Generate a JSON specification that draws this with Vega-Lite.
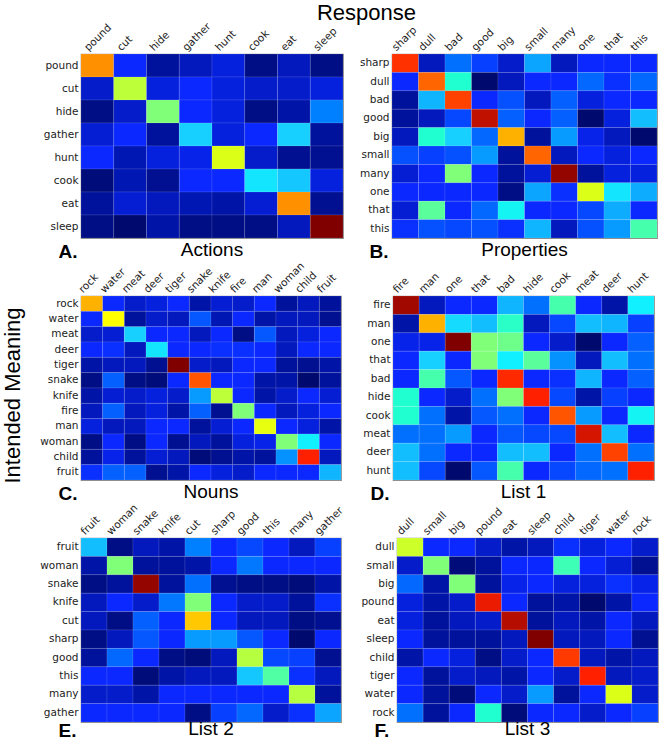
{
"$schema":"https://vega.github.io/schema/vega-lite/v6.json",
"padding":{"left":2,"top":2,"right":0,"bottom":0},
"background":"white",
"datasets":{
"A":[
{"r":"pound","c":"pound","v":0.75},{"r":"pound","c":"cut","v":0.13},{"r":"pound","c":"hide","v":0.04},{"r":"pound","c":"gather","v":0.07},{"r":"pound","c":"hunt","v":0.10},{"r":"pound","c":"cook","v":0.02},{"r":"pound","c":"eat","v":0.07},{"r":"pound","c":"sleep","v":0.02},
{"r":"cut","c":"pound","v":0.08},{"r":"cut","c":"cut","v":0.58},{"r":"cut","c":"hide","v":0.10},{"r":"cut","c":"gather","v":0.13},{"r":"cut","c":"hunt","v":0.10},{"r":"cut","c":"cook","v":0.08},{"r":"cut","c":"eat","v":0.08},{"r":"cut","c":"sleep","v":0.10},
{"r":"hide","c":"pound","v":0.02},{"r":"hide","c":"cut","v":0.08},{"r":"hide","c":"hide","v":0.50},{"r":"hide","c":"gather","v":0.13},{"r":"hide","c":"hunt","v":0.10},{"r":"hide","c":"cook","v":0.02},{"r":"hide","c":"eat","v":0.05},{"r":"hide","c":"sleep","v":0.24},
{"r":"gather","c":"pound","v":0.09},{"r":"gather","c":"cut","v":0.13},{"r":"gather","c":"hide","v":0.04},{"r":"gather","c":"gather","v":0.33},{"r":"gather","c":"hunt","v":0.10},{"r":"gather","c":"cook","v":0.13},{"r":"gather","c":"eat","v":0.33},{"r":"gather","c":"sleep","v":0.04},
{"r":"hunt","c":"pound","v":0.13},{"r":"hunt","c":"cut","v":0.06},{"r":"hunt","c":"hide","v":0.10},{"r":"hunt","c":"gather","v":0.11},{"r":"hunt","c":"hunt","v":0.62},{"r":"hunt","c":"cook","v":0.08},{"r":"hunt","c":"eat","v":0.03},{"r":"hunt","c":"sleep","v":0.03},
{"r":"cook","c":"pound","v":0.01},{"r":"cook","c":"cut","v":0.06},{"r":"cook","c":"hide","v":0.03},{"r":"cook","c":"gather","v":0.13},{"r":"cook","c":"hunt","v":0.13},{"r":"cook","c":"cook","v":0.35},{"r":"cook","c":"eat","v":0.32},{"r":"cook","c":"sleep","v":0.10},
{"r":"eat","c":"pound","v":0.04},{"r":"eat","c":"cut","v":0.09},{"r":"eat","c":"hide","v":0.07},{"r":"eat","c":"gather","v":0.06},{"r":"eat","c":"hunt","v":0.05},{"r":"eat","c":"cook","v":0.09},{"r":"eat","c":"eat","v":0.75},{"r":"eat","c":"sleep","v":0.03},
{"r":"sleep","c":"pound","v":0.02},{"r":"sleep","c":"cut","v":0.00},{"r":"sleep","c":"hide","v":0.05},{"r":"sleep","c":"gather","v":0.02},{"r":"sleep","c":"hunt","v":0.02},{"r":"sleep","c":"cook","v":0.02},{"r":"sleep","c":"eat","v":0.07},{"r":"sleep","c":"sleep","v":1.00}
],
"B":[
{"r":"sharp","c":"sharp","v":0.86},{"r":"sharp","c":"dull","v":0.07},{"r":"sharp","c":"bad","v":0.22},{"r":"sharp","c":"good","v":0.16},{"r":"sharp","c":"big","v":0.08},{"r":"sharp","c":"small","v":0.28},{"r":"sharp","c":"many","v":0.07},{"r":"sharp","c":"one","v":0.13},{"r":"sharp","c":"that","v":0.13},{"r":"sharp","c":"this","v":0.13},
{"r":"dull","c":"sharp","v":0.13},{"r":"dull","c":"dull","v":0.80},{"r":"dull","c":"bad","v":0.40},{"r":"dull","c":"good","v":0.00},{"r":"dull","c":"big","v":0.07},{"r":"dull","c":"small","v":0.13},{"r":"dull","c":"many","v":0.13},{"r":"dull","c":"one","v":0.21},{"r":"dull","c":"that","v":0.14},{"r":"dull","c":"this","v":0.21},
{"r":"bad","c":"sharp","v":0.04},{"r":"bad","c":"dull","v":0.30},{"r":"bad","c":"bad","v":0.84},{"r":"bad","c":"good","v":0.13},{"r":"bad","c":"big","v":0.18},{"r":"bad","c":"small","v":0.07},{"r":"bad","c":"many","v":0.20},{"r":"bad","c":"one","v":0.10},{"r":"bad","c":"that","v":0.13},{"r":"bad","c":"this","v":0.13},
{"r":"good","c":"sharp","v":0.04},{"r":"good","c":"dull","v":0.07},{"r":"good","c":"bad","v":0.17},{"r":"good","c":"good","v":0.94},{"r":"good","c":"big","v":0.20},{"r":"good","c":"small","v":0.13},{"r":"good","c":"many","v":0.20},{"r":"good","c":"one","v":0.00},{"r":"good","c":"that","v":0.10},{"r":"good","c":"this","v":0.31},
{"r":"big","c":"sharp","v":0.07},{"r":"big","c":"dull","v":0.40},{"r":"big","c":"bad","v":0.33},{"r":"big","c":"good","v":0.21},{"r":"big","c":"big","v":0.72},{"r":"big","c":"small","v":0.04},{"r":"big","c":"many","v":0.27},{"r":"big","c":"one","v":0.11},{"r":"big","c":"that","v":0.07},{"r":"big","c":"this","v":0.00},
{"r":"small","c":"sharp","v":0.18},{"r":"small","c":"dull","v":0.16},{"r":"small","c":"bad","v":0.18},{"r":"small","c":"good","v":0.27},{"r":"small","c":"big","v":0.04},{"r":"small","c":"small","v":0.80},{"r":"small","c":"many","v":0.07},{"r":"small","c":"one","v":0.13},{"r":"small","c":"that","v":0.10},{"r":"small","c":"this","v":0.13},
{"r":"many","c":"sharp","v":0.09},{"r":"many","c":"dull","v":0.13},{"r":"many","c":"bad","v":0.50},{"r":"many","c":"good","v":0.13},{"r":"many","c":"big","v":0.04},{"r":"many","c":"small","v":0.09},{"r":"many","c":"many","v":0.98},{"r":"many","c":"one","v":0.04},{"r":"many","c":"that","v":0.10},{"r":"many","c":"this","v":0.10},
{"r":"one","c":"sharp","v":0.13},{"r":"one","c":"dull","v":0.13},{"r":"one","c":"bad","v":0.13},{"r":"one","c":"good","v":0.13},{"r":"one","c":"big","v":0.02},{"r":"one","c":"small","v":0.28},{"r":"one","c":"many","v":0.14},{"r":"one","c":"one","v":0.62},{"r":"one","c":"that","v":0.35},{"r":"one","c":"this","v":0.29},
{"r":"that","c":"sharp","v":0.09},{"r":"that","c":"dull","v":0.46},{"r":"that","c":"bad","v":0.13},{"r":"that","c":"good","v":0.21},{"r":"that","c":"big","v":0.37},{"r":"that","c":"small","v":0.13},{"r":"that","c":"many","v":0.13},{"r":"that","c":"one","v":0.17},{"r":"that","c":"that","v":0.29},{"r":"that","c":"this","v":0.13},
{"r":"this","c":"sharp","v":0.14},{"r":"this","c":"dull","v":0.18},{"r":"this","c":"bad","v":0.17},{"r":"this","c":"good","v":0.18},{"r":"this","c":"big","v":0.14},{"r":"this","c":"small","v":0.30},{"r":"this","c":"many","v":0.07},{"r":"this","c":"one","v":0.18},{"r":"this","c":"that","v":0.27},{"r":"this","c":"this","v":0.44}
],
"C":[
{"r":"rock","c":"rock","v":0.72},{"r":"rock","c":"water","v":0.13},{"r":"rock","c":"meat","v":0.08},{"r":"rock","c":"deer","v":0.10},{"r":"rock","c":"tiger","v":0.13},{"r":"rock","c":"snake","v":0.05},{"r":"rock","c":"knife","v":0.09},{"r":"rock","c":"fire","v":0.08},{"r":"rock","c":"man","v":0.13},{"r":"rock","c":"woman","v":0.04},{"r":"rock","c":"child","v":0.07},{"r":"rock","c":"fruit","v":0.04},
{"r":"water","c":"rock","v":0.13},{"r":"water","c":"water","v":0.65},{"r":"water","c":"meat","v":0.04},{"r":"water","c":"deer","v":0.08},{"r":"water","c":"tiger","v":0.07},{"r":"water","c":"snake","v":0.19},{"r":"water","c":"knife","v":0.06},{"r":"water","c":"fire","v":0.13},{"r":"water","c":"man","v":0.05},{"r":"water","c":"woman","v":0.07},{"r":"water","c":"child","v":0.07},{"r":"water","c":"fruit","v":0.03},
{"r":"meat","c":"rock","v":0.08},{"r":"meat","c":"water","v":0.09},{"r":"meat","c":"meat","v":0.33},{"r":"meat","c":"deer","v":0.13},{"r":"meat","c":"tiger","v":0.13},{"r":"meat","c":"snake","v":0.07},{"r":"meat","c":"knife","v":0.13},{"r":"meat","c":"fire","v":0.02},{"r":"meat","c":"man","v":0.19},{"r":"meat","c":"woman","v":0.07},{"r":"meat","c":"child","v":0.10},{"r":"meat","c":"fruit","v":0.13},
{"r":"deer","c":"rock","v":0.13},{"r":"deer","c":"water","v":0.14},{"r":"deer","c":"meat","v":0.07},{"r":"deer","c":"deer","v":0.35},{"r":"deer","c":"tiger","v":0.13},{"r":"deer","c":"snake","v":0.13},{"r":"deer","c":"knife","v":0.14},{"r":"deer","c":"fire","v":0.14},{"r":"deer","c":"man","v":0.13},{"r":"deer","c":"woman","v":0.07},{"r":"deer","c":"child","v":0.13},{"r":"deer","c":"fruit","v":0.13},
{"r":"tiger","c":"rock","v":0.05},{"r":"tiger","c":"water","v":0.07},{"r":"tiger","c":"meat","v":0.07},{"r":"tiger","c":"deer","v":0.03},{"r":"tiger","c":"tiger","v":1.00},{"r":"tiger","c":"snake","v":0.08},{"r":"tiger","c":"knife","v":0.07},{"r":"tiger","c":"fire","v":0.13},{"r":"tiger","c":"man","v":0.13},{"r":"tiger","c":"woman","v":0.04},{"r":"tiger","c":"child","v":0.03},{"r":"tiger","c":"fruit","v":0.05},
{"r":"snake","c":"rock","v":0.02},{"r":"snake","c":"water","v":0.20},{"r":"snake","c":"meat","v":0.02},{"r":"snake","c":"deer","v":0.01},{"r":"snake","c":"tiger","v":0.13},{"r":"snake","c":"snake","v":0.82},{"r":"snake","c":"knife","v":0.13},{"r":"snake","c":"fire","v":0.13},{"r":"snake","c":"man","v":0.05},{"r":"snake","c":"woman","v":0.05},{"r":"snake","c":"child","v":0.00},{"r":"snake","c":"fruit","v":0.04},
{"r":"knife","c":"rock","v":0.05},{"r":"knife","c":"water","v":0.09},{"r":"knife","c":"meat","v":0.08},{"r":"knife","c":"deer","v":0.10},{"r":"knife","c":"tiger","v":0.08},{"r":"knife","c":"snake","v":0.27},{"r":"knife","c":"knife","v":0.58},{"r":"knife","c":"fire","v":0.13},{"r":"knife","c":"man","v":0.05},{"r":"knife","c":"woman","v":0.08},{"r":"knife","c":"child","v":0.13},{"r":"knife","c":"fruit","v":0.09},
{"r":"fire","c":"rock","v":0.07},{"r":"fire","c":"water","v":0.20},{"r":"fire","c":"meat","v":0.07},{"r":"fire","c":"deer","v":0.10},{"r":"fire","c":"tiger","v":0.05},{"r":"fire","c":"snake","v":0.20},{"r":"fire","c":"knife","v":0.03},{"r":"fire","c":"fire","v":0.50},{"r":"fire","c":"man","v":0.13},{"r":"fire","c":"woman","v":0.07},{"r":"fire","c":"child","v":0.10},{"r":"fire","c":"fruit","v":0.13},
{"r":"man","c":"rock","v":0.10},{"r":"man","c":"water","v":0.07},{"r":"man","c":"meat","v":0.07},{"r":"man","c":"deer","v":0.13},{"r":"man","c":"tiger","v":0.13},{"r":"man","c":"snake","v":0.04},{"r":"man","c":"knife","v":0.09},{"r":"man","c":"fire","v":0.13},{"r":"man","c":"man","v":0.63},{"r":"man","c":"woman","v":0.13},{"r":"man","c":"child","v":0.10},{"r":"man","c":"fruit","v":0.05},
{"r":"woman","c":"rock","v":0.02},{"r":"woman","c":"water","v":0.13},{"r":"woman","c":"meat","v":0.02},{"r":"woman","c":"deer","v":0.13},{"r":"woman","c":"tiger","v":0.03},{"r":"woman","c":"snake","v":0.07},{"r":"woman","c":"knife","v":0.04},{"r":"woman","c":"fire","v":0.10},{"r":"woman","c":"man","v":0.11},{"r":"woman","c":"woman","v":0.50},{"r":"woman","c":"child","v":0.36},{"r":"woman","c":"fruit","v":0.13},
{"r":"child","c":"rock","v":0.04},{"r":"child","c":"water","v":0.11},{"r":"child","c":"meat","v":0.04},{"r":"child","c":"deer","v":0.09},{"r":"child","c":"tiger","v":0.07},{"r":"child","c":"snake","v":0.01},{"r":"child","c":"knife","v":0.03},{"r":"child","c":"fire","v":0.05},{"r":"child","c":"man","v":0.04},{"r":"child","c":"woman","v":0.26},{"r":"child","c":"child","v":0.88},{"r":"child","c":"fruit","v":0.07},
{"r":"fruit","c":"rock","v":0.14},{"r":"fruit","c":"water","v":0.20},{"r":"fruit","c":"meat","v":0.20},{"r":"fruit","c":"deer","v":0.03},{"r":"fruit","c":"tiger","v":0.05},{"r":"fruit","c":"snake","v":0.13},{"r":"fruit","c":"knife","v":0.10},{"r":"fruit","c":"fire","v":0.08},{"r":"fruit","c":"man","v":0.13},{"r":"fruit","c":"woman","v":0.13},{"r":"fruit","c":"child","v":0.13},{"r":"fruit","c":"fruit","v":0.30}
],
"D":[
{"r":"fire","c":"fire","v":0.97},{"r":"fire","c":"man","v":0.07},{"r":"fire","c":"one","v":0.13},{"r":"fire","c":"that","v":0.13},{"r":"fire","c":"bad","v":0.30},{"r":"fire","c":"hide","v":0.22},{"r":"fire","c":"cook","v":0.44},{"r":"fire","c":"meat","v":0.13},{"r":"fire","c":"deer","v":0.05},{"r":"fire","c":"hunt","v":0.36},
{"r":"man","c":"fire","v":0.05},{"r":"man","c":"man","v":0.72},{"r":"man","c":"one","v":0.34},{"r":"man","c":"that","v":0.31},{"r":"man","c":"bad","v":0.41},{"r":"man","c":"hide","v":0.07},{"r":"man","c":"cook","v":0.17},{"r":"man","c":"meat","v":0.31},{"r":"man","c":"deer","v":0.30},{"r":"man","c":"hunt","v":0.16},
{"r":"one","c":"fire","v":0.11},{"r":"one","c":"man","v":0.11},{"r":"one","c":"one","v":1.00},{"r":"one","c":"that","v":0.50},{"r":"one","c":"bad","v":0.48},{"r":"one","c":"hide","v":0.13},{"r":"one","c":"cook","v":0.08},{"r":"one","c":"meat","v":0.00},{"r":"one","c":"deer","v":0.13},{"r":"one","c":"hunt","v":0.20},
{"r":"that","c":"fire","v":0.13},{"r":"that","c":"man","v":0.33},{"r":"that","c":"one","v":0.13},{"r":"that","c":"that","v":0.50},{"r":"that","c":"bad","v":0.36},{"r":"that","c":"hide","v":0.46},{"r":"that","c":"cook","v":0.26},{"r":"that","c":"meat","v":0.07},{"r":"that","c":"deer","v":0.31},{"r":"that","c":"hunt","v":0.22},
{"r":"bad","c":"fire","v":0.13},{"r":"bad","c":"man","v":0.44},{"r":"bad","c":"one","v":0.19},{"r":"bad","c":"that","v":0.13},{"r":"bad","c":"bad","v":0.87},{"r":"bad","c":"hide","v":0.13},{"r":"bad","c":"cook","v":0.14},{"r":"bad","c":"meat","v":0.30},{"r":"bad","c":"deer","v":0.13},{"r":"bad","c":"hunt","v":0.20},
{"r":"hide","c":"fire","v":0.40},{"r":"hide","c":"man","v":0.13},{"r":"hide","c":"one","v":0.08},{"r":"hide","c":"that","v":0.22},{"r":"hide","c":"bad","v":0.50},{"r":"hide","c":"hide","v":0.88},{"r":"hide","c":"cook","v":0.17},{"r":"hide","c":"meat","v":0.05},{"r":"hide","c":"deer","v":0.16},{"r":"hide","c":"hunt","v":0.13},
{"r":"cook","c":"fire","v":0.40},{"r":"cook","c":"man","v":0.22},{"r":"cook","c":"one","v":0.05},{"r":"cook","c":"that","v":0.19},{"r":"cook","c":"bad","v":0.22},{"r":"cook","c":"hide","v":0.13},{"r":"cook","c":"cook","v":0.82},{"r":"cook","c":"meat","v":0.27},{"r":"cook","c":"deer","v":0.13},{"r":"cook","c":"hunt","v":0.37},
{"r":"meat","c":"fire","v":0.22},{"r":"meat","c":"man","v":0.22},{"r":"meat","c":"one","v":0.27},{"r":"meat","c":"that","v":0.13},{"r":"meat","c":"bad","v":0.19},{"r":"meat","c":"hide","v":0.17},{"r":"meat","c":"cook","v":0.17},{"r":"meat","c":"meat","v":0.92},{"r":"meat","c":"deer","v":0.31},{"r":"meat","c":"hunt","v":0.13},
{"r":"deer","c":"fire","v":0.31},{"r":"deer","c":"man","v":0.22},{"r":"deer","c":"one","v":0.13},{"r":"deer","c":"that","v":0.13},{"r":"deer","c":"bad","v":0.31},{"r":"deer","c":"hide","v":0.31},{"r":"deer","c":"cook","v":0.13},{"r":"deer","c":"meat","v":0.22},{"r":"deer","c":"deer","v":0.84},{"r":"deer","c":"hunt","v":0.22},
{"r":"hunt","c":"fire","v":0.31},{"r":"hunt","c":"man","v":0.17},{"r":"hunt","c":"one","v":0.00},{"r":"hunt","c":"that","v":0.19},{"r":"hunt","c":"bad","v":0.44},{"r":"hunt","c":"hide","v":0.13},{"r":"hunt","c":"cook","v":0.17},{"r":"hunt","c":"meat","v":0.21},{"r":"hunt","c":"deer","v":0.22},{"r":"hunt","c":"hunt","v":0.88}
],
"E":[
{"r":"fruit","c":"fruit","v":0.31},{"r":"fruit","c":"woman","v":0.02},{"r":"fruit","c":"snake","v":0.07},{"r":"fruit","c":"knife","v":0.05},{"r":"fruit","c":"cut","v":0.24},{"r":"fruit","c":"sharp","v":0.13},{"r":"fruit","c":"good","v":0.17},{"r":"fruit","c":"this","v":0.13},{"r":"fruit","c":"many","v":0.07},{"r":"fruit","c":"gather","v":0.16},
{"r":"woman","c":"fruit","v":0.05},{"r":"woman","c":"woman","v":0.50},{"r":"woman","c":"snake","v":0.04},{"r":"woman","c":"knife","v":0.04},{"r":"woman","c":"cut","v":0.05},{"r":"woman","c":"sharp","v":0.13},{"r":"woman","c":"good","v":0.23},{"r":"woman","c":"this","v":0.13},{"r":"woman","c":"many","v":0.13},{"r":"woman","c":"gather","v":0.13},
{"r":"snake","c":"fruit","v":0.02},{"r":"snake","c":"woman","v":0.04},{"r":"snake","c":"snake","v":0.98},{"r":"snake","c":"knife","v":0.04},{"r":"snake","c":"cut","v":0.22},{"r":"snake","c":"sharp","v":0.03},{"r":"snake","c":"good","v":0.02},{"r":"snake","c":"this","v":0.02},{"r":"snake","c":"many","v":0.01},{"r":"snake","c":"gather","v":0.05},
{"r":"knife","c":"fruit","v":0.07},{"r":"knife","c":"woman","v":0.13},{"r":"knife","c":"snake","v":0.08},{"r":"knife","c":"knife","v":0.23},{"r":"knife","c":"cut","v":0.50},{"r":"knife","c":"sharp","v":0.13},{"r":"knife","c":"good","v":0.08},{"r":"knife","c":"this","v":0.08},{"r":"knife","c":"many","v":0.04},{"r":"knife","c":"gather","v":0.14},
{"r":"cut","c":"fruit","v":0.07},{"r":"cut","c":"woman","v":0.02},{"r":"cut","c":"snake","v":0.20},{"r":"cut","c":"knife","v":0.13},{"r":"cut","c":"cut","v":0.70},{"r":"cut","c":"sharp","v":0.13},{"r":"cut","c":"good","v":0.07},{"r":"cut","c":"this","v":0.07},{"r":"cut","c":"many","v":0.02},{"r":"cut","c":"gather","v":0.03},
{"r":"sharp","c":"fruit","v":0.02},{"r":"sharp","c":"woman","v":0.07},{"r":"sharp","c":"snake","v":0.19},{"r":"sharp","c":"knife","v":0.13},{"r":"sharp","c":"cut","v":0.27},{"r":"sharp","c":"sharp","v":0.27},{"r":"sharp","c":"good","v":0.19},{"r":"sharp","c":"this","v":0.13},{"r":"sharp","c":"many","v":0.00},{"r":"sharp","c":"gather","v":0.13},
{"r":"good","c":"fruit","v":0.04},{"r":"good","c":"woman","v":0.21},{"r":"good","c":"snake","v":0.13},{"r":"good","c":"knife","v":0.02},{"r":"good","c":"cut","v":0.01},{"r":"good","c":"sharp","v":0.07},{"r":"good","c":"good","v":0.57},{"r":"good","c":"this","v":0.17},{"r":"good","c":"many","v":0.16},{"r":"good","c":"gather","v":0.03},
{"r":"this","c":"fruit","v":0.13},{"r":"this","c":"woman","v":0.13},{"r":"this","c":"snake","v":0.01},{"r":"this","c":"knife","v":0.05},{"r":"this","c":"cut","v":0.07},{"r":"this","c":"sharp","v":0.07},{"r":"this","c":"good","v":0.32},{"r":"this","c":"this","v":0.45},{"r":"this","c":"many","v":0.14},{"r":"this","c":"gather","v":0.07},
{"r":"many","c":"fruit","v":0.08},{"r":"many","c":"woman","v":0.08},{"r":"many","c":"snake","v":0.05},{"r":"many","c":"knife","v":0.13},{"r":"many","c":"cut","v":0.13},{"r":"many","c":"sharp","v":0.13},{"r":"many","c":"good","v":0.13},{"r":"many","c":"this","v":0.13},{"r":"many","c":"many","v":0.57},{"r":"many","c":"gather","v":0.04},
{"r":"gather","c":"fruit","v":0.13},{"r":"gather","c":"woman","v":0.13},{"r":"gather","c":"snake","v":0.13},{"r":"gather","c":"knife","v":0.13},{"r":"gather","c":"cut","v":0.02},{"r":"gather","c":"sharp","v":0.16},{"r":"gather","c":"good","v":0.21},{"r":"gather","c":"this","v":0.08},{"r":"gather","c":"many","v":0.14},{"r":"gather","c":"gather","v":0.28}
],
"F":[
{"r":"dull","c":"dull","v":0.60},{"r":"dull","c":"small","v":0.13},{"r":"dull","c":"big","v":0.13},{"r":"dull","c":"pound","v":0.08},{"r":"dull","c":"eat","v":0.05},{"r":"dull","c":"sleep","v":0.07},{"r":"dull","c":"child","v":0.14},{"r":"dull","c":"tiger","v":0.10},{"r":"dull","c":"water","v":0.13},{"r":"dull","c":"rock","v":0.08},
{"r":"small","c":"dull","v":0.08},{"r":"small","c":"small","v":0.50},{"r":"small","c":"big","v":0.01},{"r":"small","c":"pound","v":0.04},{"r":"small","c":"eat","v":0.13},{"r":"small","c":"sleep","v":0.13},{"r":"small","c":"child","v":0.43},{"r":"small","c":"tiger","v":0.13},{"r":"small","c":"water","v":0.09},{"r":"small","c":"rock","v":0.03},
{"r":"big","c":"dull","v":0.21},{"r":"big","c":"small","v":0.05},{"r":"big","c":"big","v":0.50},{"r":"big","c":"pound","v":0.04},{"r":"big","c":"eat","v":0.11},{"r":"big","c":"sleep","v":0.13},{"r":"big","c":"child","v":0.10},{"r":"big","c":"tiger","v":0.10},{"r":"big","c":"water","v":0.14},{"r":"big","c":"rock","v":0.11},
{"r":"pound","c":"dull","v":0.10},{"r":"pound","c":"small","v":0.05},{"r":"pound","c":"big","v":0.08},{"r":"pound","c":"pound","v":0.90},{"r":"pound","c":"eat","v":0.13},{"r":"pound","c":"sleep","v":0.04},{"r":"pound","c":"child","v":0.05},{"r":"pound","c":"tiger","v":0.00},{"r":"pound","c":"water","v":0.05},{"r":"pound","c":"rock","v":0.13},
{"r":"eat","c":"dull","v":0.10},{"r":"eat","c":"small","v":0.04},{"r":"eat","c":"big","v":0.07},{"r":"eat","c":"pound","v":0.08},{"r":"eat","c":"eat","v":0.95},{"r":"eat","c":"sleep","v":0.04},{"r":"eat","c":"child","v":0.07},{"r":"eat","c":"tiger","v":0.05},{"r":"eat","c":"water","v":0.13},{"r":"eat","c":"rock","v":0.07},
{"r":"sleep","c":"dull","v":0.13},{"r":"sleep","c":"small","v":0.04},{"r":"sleep","c":"big","v":0.04},{"r":"sleep","c":"pound","v":0.04},{"r":"sleep","c":"eat","v":0.07},{"r":"sleep","c":"sleep","v":1.00},{"r":"sleep","c":"child","v":0.07},{"r":"sleep","c":"tiger","v":0.07},{"r":"sleep","c":"water","v":0.13},{"r":"sleep","c":"rock","v":0.03},
{"r":"child","c":"dull","v":0.05},{"r":"child","c":"small","v":0.13},{"r":"child","c":"big","v":0.10},{"r":"child","c":"pound","v":0.02},{"r":"child","c":"eat","v":0.08},{"r":"child","c":"sleep","v":0.13},{"r":"child","c":"child","v":0.85},{"r":"child","c":"tiger","v":0.07},{"r":"child","c":"water","v":0.05},{"r":"child","c":"rock","v":0.07},
{"r":"tiger","c":"dull","v":0.13},{"r":"tiger","c":"small","v":0.04},{"r":"tiger","c":"big","v":0.08},{"r":"tiger","c":"pound","v":0.07},{"r":"tiger","c":"eat","v":0.05},{"r":"tiger","c":"sleep","v":0.13},{"r":"tiger","c":"child","v":0.08},{"r":"tiger","c":"tiger","v":0.88},{"r":"tiger","c":"water","v":0.07},{"r":"tiger","c":"rock","v":0.08},
{"r":"water","c":"dull","v":0.13},{"r":"water","c":"small","v":0.04},{"r":"water","c":"big","v":0.01},{"r":"water","c":"pound","v":0.13},{"r":"water","c":"eat","v":0.08},{"r":"water","c":"sleep","v":0.27},{"r":"water","c":"child","v":0.04},{"r":"water","c":"tiger","v":0.13},{"r":"water","c":"water","v":0.62},{"r":"water","c":"rock","v":0.08},
{"r":"rock","c":"dull","v":0.22},{"r":"rock","c":"small","v":0.04},{"r":"rock","c":"big","v":0.13},{"r":"rock","c":"pound","v":0.40},{"r":"rock","c":"eat","v":0.01},{"r":"rock","c":"sleep","v":0.13},{"r":"rock","c":"child","v":0.13},{"r":"rock","c":"tiger","v":0.08},{"r":"rock","c":"water","v":0.13},{"r":"rock","c":"rock","v":0.16}
]
},
"title":{"text":"Response","orient":"top","fontSize":22,"font":"Liberation Sans","fontWeight":"normal","color":"#000","anchor":"middle","dx":36,"offset":-5},
"vconcat":[{
"title":{"text":"Intended Meaning","orient":"left","fontSize":22,"font":"Liberation Sans","fontWeight":"normal","color":"#000","anchor":"middle","offset":14,"dx":-15},
"spacing":-3,
"vconcat":[
{"spacing":14,"hconcat":[
{"data":{"name":"A"},"width":262,"height":184,"title":{"text":"Actions","orient":"bottom"},"mark":{"type":"rect","stroke":"#ffffff","strokeWidth":0.6,"strokeOpacity":0.18},
"encoding":{"x":{"field":"c","type":"nominal","sort":null,"title":null,"axis":{"orient":"top","labelAngle":-45,"labelAlign":"left","labelBaseline":"middle","labelOffset":-11,"labelPadding":5}},"y":{"field":"r","type":"nominal","sort":null,"title":"A."},"color":{"field":"v","type":"quantitative","legend":null,"scale":{"domain":[0,0.05,0.13,0.24,0.33,0.36,0.4,0.5,0.62,0.65,0.75,0.88,1],"range":["#000a6e","#0014a8","#0a28ff","#0080ff","#18d0ff","#10f0ff","#20ffd0","#80ff78","#dcff18","#ffff00","#ff9000","#ff2000","#800000"],"interpolate":"rgb"}}}},
{"data":{"name":"B"},"width":265,"height":184,"title":{"text":"Properties","orient":"bottom"},"mark":{"type":"rect","stroke":"#ffffff","strokeWidth":0.6,"strokeOpacity":0.18},
"encoding":{"x":{"field":"c","type":"nominal","sort":null,"title":null,"axis":{"orient":"top","labelAngle":-45,"labelAlign":"left","labelBaseline":"middle","labelOffset":-11,"labelPadding":5}},"y":{"field":"r","type":"nominal","sort":null,"title":"B."},"color":{"field":"v","type":"quantitative","legend":null,"scale":{"domain":[0,0.05,0.13,0.24,0.33,0.36,0.4,0.5,0.62,0.65,0.75,0.88,1],"range":["#000a6e","#0014a8","#0a28ff","#0080ff","#18d0ff","#10f0ff","#20ffd0","#80ff78","#dcff18","#ffff00","#ff9000","#ff2000","#800000"],"interpolate":"rgb"}}}}
]},
{"spacing":20,"hconcat":[
{"data":{"name":"C"},"width":260,"height":184,"title":{"text":"Nouns","orient":"bottom"},"mark":{"type":"rect","stroke":"#ffffff","strokeWidth":0.6,"strokeOpacity":0.18},
"encoding":{"x":{"field":"c","type":"nominal","sort":null,"title":null,"axis":{"orient":"top","labelAngle":-45,"labelAlign":"left","labelBaseline":"middle","labelOffset":-11,"labelPadding":5}},"y":{"field":"r","type":"nominal","sort":null,"title":"C."},"color":{"field":"v","type":"quantitative","legend":null,"scale":{"domain":[0,0.05,0.13,0.24,0.33,0.36,0.4,0.5,0.62,0.65,0.75,0.88,1],"range":["#000a6e","#0014a8","#0a28ff","#0080ff","#18d0ff","#10f0ff","#20ffd0","#80ff78","#dcff18","#ffff00","#ff9000","#ff2000","#800000"],"interpolate":"rgb"}}}},
{"data":{"name":"D"},"width":261,"height":184,"title":{"text":"List 1","orient":"bottom"},"mark":{"type":"rect","stroke":"#ffffff","strokeWidth":0.6,"strokeOpacity":0.18},
"encoding":{"x":{"field":"c","type":"nominal","sort":null,"title":null,"axis":{"orient":"top","labelAngle":-45,"labelAlign":"left","labelBaseline":"middle","labelOffset":-11,"labelPadding":5}},"y":{"field":"r","type":"nominal","sort":null,"title":"D."},"color":{"field":"v","type":"quantitative","legend":null,"scale":{"domain":[0,0.05,0.13,0.24,0.33,0.36,0.4,0.5,0.62,0.65,0.75,0.88,1],"range":["#000a6e","#0014a8","#0a28ff","#0080ff","#18d0ff","#10f0ff","#20ffd0","#80ff78","#dcff18","#ffff00","#ff9000","#ff2000","#800000"],"interpolate":"rgb"}}}}
]},
{"spacing":14,"hconcat":[
{"data":{"name":"E"},"width":260,"height":184,"title":{"text":"List 2","orient":"bottom"},"mark":{"type":"rect","stroke":"#ffffff","strokeWidth":0.6,"strokeOpacity":0.18},
"encoding":{"x":{"field":"c","type":"nominal","sort":null,"title":null,"axis":{"orient":"top","labelAngle":-45,"labelAlign":"left","labelBaseline":"middle","labelOffset":-11,"labelPadding":5}},"y":{"field":"r","type":"nominal","sort":null,"title":"E.","axis":{"titleY":198}},"color":{"field":"v","type":"quantitative","legend":null,"scale":{"domain":[0,0.05,0.13,0.24,0.33,0.36,0.4,0.5,0.62,0.65,0.75,0.88,1],"range":["#000a6e","#0014a8","#0a28ff","#0080ff","#18d0ff","#10f0ff","#20ffd0","#80ff78","#dcff18","#ffff00","#ff9000","#ff2000","#800000"],"interpolate":"rgb"}}}},
{"data":{"name":"F"},"width":261,"height":184,"title":{"text":"List 3","orient":"bottom"},"mark":{"type":"rect","stroke":"#ffffff","strokeWidth":0.6,"strokeOpacity":0.18},
"encoding":{"x":{"field":"c","type":"nominal","sort":null,"title":null,"axis":{"orient":"top","labelAngle":-45,"labelAlign":"left","labelBaseline":"middle","labelOffset":-11,"labelPadding":5}},"y":{"field":"r","type":"nominal","sort":null,"title":"F.","axis":{"titleY":198}},"color":{"field":"v","type":"quantitative","legend":null,"scale":{"domain":[0,0.05,0.13,0.24,0.33,0.36,0.4,0.5,0.62,0.65,0.75,0.88,1],"range":["#000a6e","#0014a8","#0a28ff","#0080ff","#18d0ff","#10f0ff","#20ffd0","#80ff78","#dcff18","#ffff00","#ff9000","#ff2000","#800000"],"interpolate":"rgb"}}}}
]}
]}],
"resolve":{"scale":{"color":"independent"}},
"config":{
"view":{"stroke":"#8a8a8a","strokeWidth":1.2},
"title":{"anchor":"middle","fontSize":19,"font":"Liberation Sans","fontWeight":"normal","color":"#000","offset":-20},
"axis":{"labelFont":"DejaVu Sans","labelFontSize":10.5,"labelColor":"#222","ticks":false,"domain":false,"grid":false},
"axisY":{"labelPadding":3,"titleAngle":0,"titleFont":"Liberation Sans","titleFontSize":19,"titleFontWeight":"bold","titleColor":"#000","titleX":-23,"titleY":203,"titleAlign":"left","titleBaseline":"alphabetic"}
}
}
